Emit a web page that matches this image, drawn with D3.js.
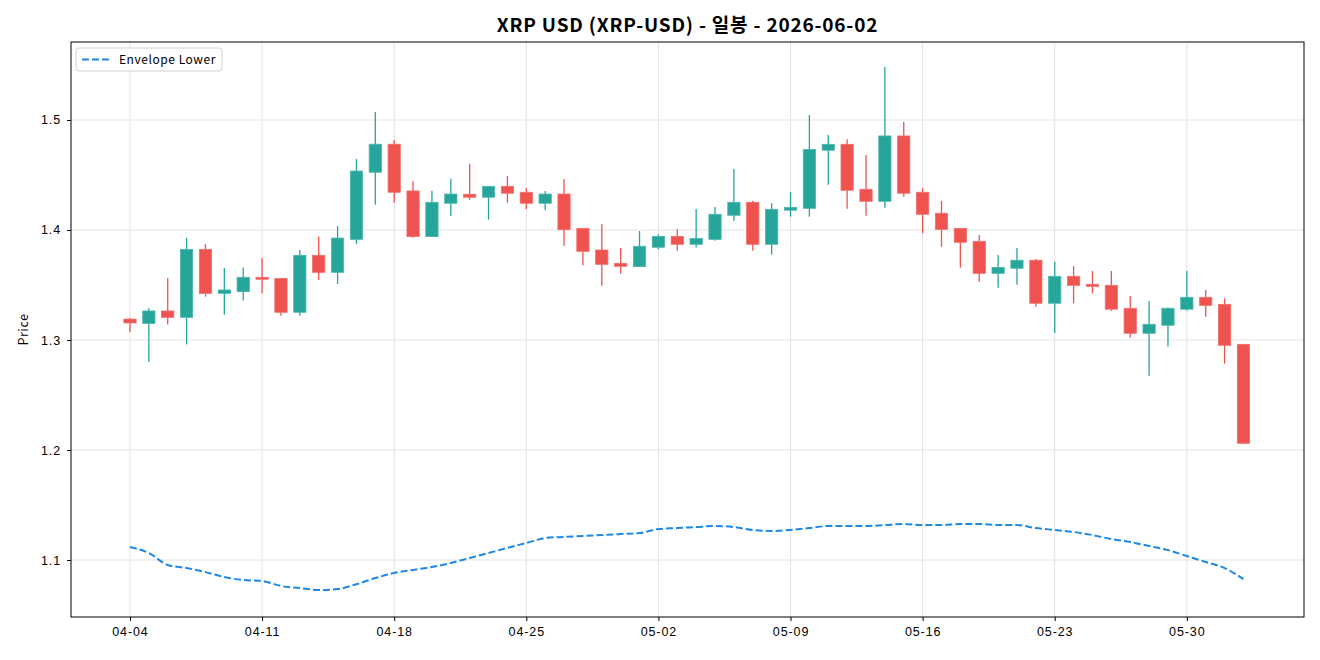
<!DOCTYPE html>
<html>
<head>
<meta charset="utf-8">
<script src="https://cdn.jsdelivr.net/npm/d3@7"></script>
<style>
  html, body { margin: 0; padding: 0; background: #fff; }
  svg { display: block; font-family: "Noto Sans CJK KR", "Noto Sans", sans-serif; }
  .axis text { font-size: 12.5px; fill: #000; letter-spacing: 0.9px; }
  .axis line, .axis path { stroke: #000; }
  .grid line { stroke: #e3e3e3; stroke-width: 1; }
  .title { font-size: 19px; font-weight: bold; letter-spacing: 0.8px; }
</style>
</head>
<body>
<div id="chart"></div>
<script>
// Daily candles, XRP-USD
const dates = [
  "2026-04-04","2026-04-05","2026-04-06","2026-04-07","2026-04-08","2026-04-09","2026-04-10","2026-04-11","2026-04-12","2026-04-13",
  "2026-04-14","2026-04-15","2026-04-16","2026-04-17","2026-04-18","2026-04-19","2026-04-20","2026-04-21","2026-04-22","2026-04-23",
  "2026-04-24","2026-04-25","2026-04-26","2026-04-27","2026-04-28","2026-04-29","2026-04-30","2026-05-01","2026-05-02","2026-05-03",
  "2026-05-04","2026-05-05","2026-05-06","2026-05-07","2026-05-08","2026-05-09","2026-05-10","2026-05-11","2026-05-12","2026-05-13",
  "2026-05-14","2026-05-15","2026-05-16","2026-05-17","2026-05-18","2026-05-19","2026-05-20","2026-05-21","2026-05-22","2026-05-23",
  "2026-05-24","2026-05-25","2026-05-26","2026-05-27","2026-05-28","2026-05-29","2026-05-30","2026-05-31","2026-06-01","2026-06-02"
];
const open = [
  1.319,1.315,1.3264,1.3206,1.3824,1.3424,1.344,1.357,1.356,1.3252,
  1.377,1.3615,1.3915,1.4525,1.478,1.4355,1.394,1.4243,1.4325,1.4298,
  1.4397,1.4343,1.4243,1.4327,1.4015,1.3818,1.3697,1.3667,1.3843,1.3942,
  1.387,1.3915,1.4134,1.4252,1.387,1.418,1.4197,1.4725,1.4779,1.437,
  1.4261,1.4855,1.4343,1.4152,1.4015,1.3897,1.3606,1.3652,1.3725,1.3334,
  1.3579,1.3506,1.3497,1.3288,1.3061,1.3134,1.328,1.3388,1.3324,1.2961
];
const high = [
  1.320,1.329,1.3564,1.393,1.3873,1.3655,1.366,1.3745,1.356,1.3818,
  1.394,1.4036,1.4645,1.5073,1.4818,1.444,1.4357,1.4467,1.4603,1.440,
  1.449,1.4382,1.4355,1.4464,1.4015,1.4055,1.3836,1.399,1.3961,1.401,
  1.419,1.421,1.4555,1.4267,1.4243,1.4345,1.5045,1.4864,1.4825,1.4682,
  1.5482,1.4982,1.4382,1.4264,1.4015,1.3955,1.3773,1.3836,1.3736,1.3712,
  1.3673,1.3627,1.3627,1.340,1.3355,1.3297,1.3627,1.3455,1.3379,1.2961
];
const low = [
  1.3073,1.280,1.314,1.296,1.3394,1.323,1.336,1.3424,1.322,1.322,
  1.3545,1.351,1.3873,1.423,1.4248,1.393,1.3936,1.4127,1.4276,1.4094,
  1.4248,1.419,1.418,1.3857,1.368,1.3494,1.3603,1.3667,1.3825,1.3812,
  1.384,1.3903,1.4085,1.3812,1.3776,1.4121,1.4121,1.4412,1.4194,1.413,
  1.4203,1.4303,1.397,1.3848,1.3657,1.353,1.3476,1.3503,1.3303,1.3064,
  1.3334,1.3424,1.3267,1.3021,1.2675,1.294,1.3267,1.3212,1.2785,1.2061
];
const close = [
  1.3155,1.3264,1.3206,1.3824,1.3424,1.3455,1.357,1.3552,1.3252,1.377,
  1.3615,1.3927,1.4536,1.478,1.4343,1.394,1.4252,1.4327,1.4298,1.4397,
  1.4334,1.4243,1.4327,1.4003,1.3806,1.3688,1.367,1.3852,1.3942,1.387,
  1.3924,1.4143,1.4252,1.387,1.4188,1.4206,1.4733,1.4779,1.4361,1.4261,
  1.4855,1.4334,1.4143,1.4006,1.3888,1.3606,1.366,1.3725,1.3334,1.3579,
  1.3497,1.3488,1.328,1.3061,1.3143,1.3288,1.3388,1.3315,1.2952,1.2061
];
const envelopeLower = [
  1.1118,1.1064,1.0955,1.0927,1.089,1.0845,1.0818,1.081,1.0764,1.0745,
  1.0727,1.0736,1.078,1.0836,1.0882,1.091,1.0936,1.0973,1.1018,1.1064,
  1.111,1.1155,1.12,1.121,1.1218,1.1227,1.1236,1.1245,1.1282,1.129,
  1.13,1.1309,1.13,1.1273,1.1264,1.1273,1.129,1.1309,1.1309,1.1309,
  1.1318,1.1327,1.1318,1.1318,1.1327,1.1327,1.1318,1.1318,1.129,1.1273,
  1.1255,1.1227,1.119,1.1164,1.1127,1.109,1.1036,1.0982,1.0927,1.0827
];
const xTicks = ["2026-04-04","2026-04-11","2026-04-18","2026-04-25","2026-05-02","2026-05-09","2026-05-16","2026-05-23","2026-05-30"];
const yTicks = [1.1, 1.2, 1.3, 1.4, 1.5];

const COLOR = { up: "#26a69a", down: "#ef5350", env: "#1e88e5" };

const W = 1320, H = 660;
const margin = { top: 42, right: 16, bottom: 43, left: 71 };
const width = W - margin.left - margin.right;
const height = H - margin.top - margin.bottom;

const parse = d3.timeParse("%Y-%m-%d");
const data = dates.map((d, i) => ({
  date: parse(d), o: open[i], h: high[i], l: low[i], c: close[i], env: envelopeLower[i]
}));

const svg = d3.select("#chart").append("svg")
  .attr("width", W).attr("height", H);

const g = svg.append("g").attr("transform", `translate(${margin.left},${margin.top})`);

// x: pad about three days on each side like matplotlib's auto margins
const x = d3.scaleTime()
  .domain([d3.timeHour.offset(data[0].date, -75), d3.timeHour.offset(data[data.length - 1].date, 77)])
  .range([0, width]);
const y = d3.scaleLinear().domain([1.0482, 1.5709]).range([height, 0]);

const dayW = x(d3.timeDay.offset(data[0].date, 1)) - x(data[0].date);
const bodyW = dayW * 0.65;

// grid
g.append("g").attr("class", "grid")
  .selectAll("line.v").data(xTicks.map(parse)).join("line")
  .attr("x1", d => x(d)).attr("x2", d => x(d)).attr("y1", 0).attr("y2", height);
g.append("g").attr("class", "grid")
  .selectAll("line.h").data(yTicks).join("line")
  .attr("x1", 0).attr("x2", width).attr("y1", d => y(d)).attr("y2", d => y(d));

// candles
const candles = g.append("g").selectAll("g").data(data).join("g");
candles.append("line")
  .attr("x1", d => x(d.date)).attr("x2", d => x(d.date))
  .attr("y1", d => y(d.h)).attr("y2", d => y(d.l))
  .attr("stroke", d => d.c >= d.o ? COLOR.up : COLOR.down)
  .attr("stroke-width", 1.3);
candles.append("rect")
  .attr("x", d => x(d.date) - bodyW / 2)
  .attr("width", bodyW)
  .attr("y", d => y(Math.max(d.o, d.c)))
  .attr("height", d => Math.max(1, Math.abs(y(d.o) - y(d.c))))
  .attr("fill", d => d.c >= d.o ? COLOR.up : COLOR.down)
  .attr("stroke", d => d.c >= d.o ? "#4db6ac" : "#f26f6c")
  .attr("stroke-width", 0.8);

// envelope lower
g.append("path").datum(data)
  .attr("fill", "none")
  .attr("stroke", COLOR.env)
  .attr("stroke-width", 2)
  .attr("stroke-dasharray", "7,3")
  .attr("d", d3.line().x(d => x(d.date)).y(d => y(d.env)).curve(d3.curveMonotoneX));

// axes
g.append("g").attr("class", "axis")
  .attr("transform", `translate(0,${height})`)
  .call(d3.axisBottom(x).tickValues(xTicks.map(parse)).tickFormat(d3.timeFormat("%m-%d")).tickSize(4).tickPadding(6).tickSizeOuter(0))
  .call(s => s.select(".domain").remove());
g.append("g").attr("class", "axis")
  .call(d3.axisLeft(y).tickValues(yTicks).tickFormat(d3.format(".1f")).tickSize(4).tickPadding(6).tickSizeOuter(0))
  .call(s => s.select(".domain").remove());

// frame
g.append("rect").attr("width", width).attr("height", height)
  .attr("fill", "none").attr("stroke", "#000").attr("stroke-width", 1);

// y label
svg.append("text")
  .attr("transform", `translate(28,${margin.top + height / 2}) rotate(-90)`)
  .attr("text-anchor", "middle")
  .style("font-size", "12.5px")
  .style("letter-spacing", "0.6px")
  .text("Price");

// title
svg.append("text").attr("class", "title")
  .attr("x", margin.left + width / 2).attr("y", 32)
  .attr("text-anchor", "middle")
  .text("XRP USD (XRP-USD) - 일봉 - 2026-06-02");

// legend
const lg = g.append("g").attr("transform", "translate(5,6)");
lg.append("rect").attr("width", 146).attr("height", 23).attr("rx", 3)
  .attr("fill", "#fff").attr("fill-opacity", 0.8).attr("stroke", "#d0d0d0");
lg.append("line").attr("x1", 6).attr("x2", 34).attr("y1", 11.5).attr("y2", 11.5)
  .attr("stroke", COLOR.env).attr("stroke-width", 2).attr("stroke-dasharray", "7,3");
lg.append("text").attr("x", 43).attr("y", 16)
  .style("font-size", "12px").style("letter-spacing", "0.55px").text("Envelope Lower");
</script>
</body>
</html>
